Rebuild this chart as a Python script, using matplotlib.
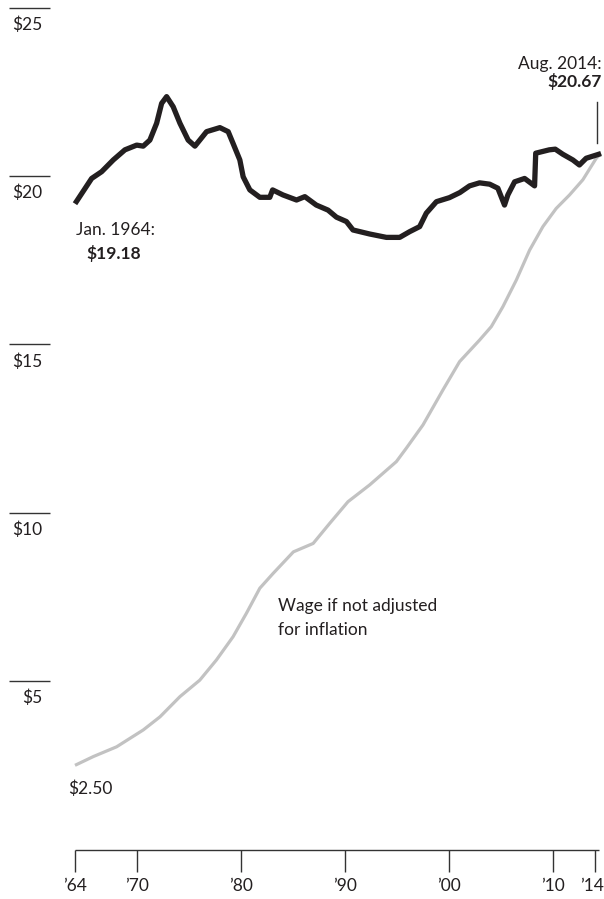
import matplotlib
matplotlib.use("Agg")
import matplotlib.pyplot as plt

plt.rcParams['font.family'] = ['Lato', 'DejaVu Sans']

# ---- data ----
real_years = [1964.0, 1965.6, 1966.56, 1967.68, 1968.8, 1969.93, 1970.56, 1971.2, 1971.85,
              1972.33, 1972.81, 1973.44, 1974.09, 1974.88, 1975.53, 1976.0, 1976.65, 1977.93,
              1978.73, 1979.2, 1979.85, 1980.17, 1980.81, 1981.77, 1982.73, 1983.0, 1984.0,
              1985.3, 1986.1, 1987.2, 1988.33, 1989.14, 1990.1, 1990.73, 1992.34, 1993.94,
              1995.22, 1996.18, 1997.14, 1997.78, 1998.75, 2000.0, 2001.0, 2001.94, 2002.9,
              2003.87, 2004.66, 2005.3, 2005.62, 2006.27, 2007.23, 2008.19, 2008.3, 2009.6,
              2010.18, 2010.9, 2011.87, 2012.5, 2013.15, 2014.58]
real_wage = [19.18, 19.93, 20.13, 20.48, 20.78, 20.92, 20.89, 21.07, 21.57,
             22.16, 22.36, 22.06, 21.57, 21.07, 20.89, 21.07, 21.32, 21.44,
             21.32, 20.97, 20.48, 19.98, 19.59, 19.37, 19.37, 19.59, 19.44,
             19.29, 19.39, 19.14, 18.99, 18.78, 18.65, 18.40, 18.28, 18.18,
             18.18, 18.35, 18.50, 18.90, 19.24, 19.36, 19.51, 19.71, 19.80,
             19.76, 19.64, 19.14, 19.44, 19.83, 19.93, 19.71, 20.68, 20.78,
             20.80, 20.65, 20.48, 20.33, 20.53, 20.67]

nominal_years = [1964.0, 1965.76, 1968.0, 1970.56, 1972.17, 1974.09, 1976.0, 1977.6, 1979.2,
                 1980.49, 1981.77, 1983.05, 1985.0, 1986.9, 1988.5, 1990.25, 1992.34, 1994.9,
                 1995.86, 1997.46, 1999.38, 2000.98, 2002.9, 2004.03, 2005.14, 2006.43,
                 2007.71, 2008.99, 2010.27, 2011.55, 2012.83, 2014.12, 2014.58]
nominal_wage = [2.50, 2.76, 3.05, 3.55, 3.94, 4.54, 5.03, 5.63, 6.32,
                7.02, 7.76, 8.20, 8.84, 9.09, 9.69, 10.33, 10.83, 11.52,
                11.92, 12.61, 13.65, 14.49, 15.13, 15.53, 16.12, 16.91,
                17.80, 18.50, 19.04, 19.44, 19.89, 20.53, 20.67]

x_ticks = [1964, 1970, 1980, 1990, 2000, 2010, 2014]
x_tick_labels = ["\u201964", "\u201970", "\u201980", "\u201990", "\u201900", "\u201910", "\u201914"]
y_grid = [5, 10, 15, 20, 25]
y_grid_labels = ["$5", "$10", "$15", "$20", "$25"]

# ---- layout helpers (pixel geometry of the reference) ----
W, H = 604, 899
YEAR_PER_PX = 50 / 520.0
X0 = 1964 - 75 * YEAR_PER_PX
X1 = 1964 + (W - 75) * YEAR_PER_PX
PX_PER_DOLLAR = 33.67
Y0 = -(H - 849.5) / PX_PER_DOLLAR
Y1 = 849.5 / PX_PER_DOLLAR

def px_x(px):
    return X0 + px * YEAR_PER_PX

def px_y(py):
    return (849.5 - py) / PX_PER_DOLLAR

fig = plt.figure(figsize=(W / 100, H / 100), dpi=100)
ax = fig.add_axes([0, 0, 1, 1])
ax.set_xlim(X0, X1)
ax.set_ylim(Y0, Y1)
for s in ['top', 'right', 'left', 'bottom']:
    ax.spines[s].set_visible(False)

TXT = '#231f20'
FS = 12.5

# x axis line and ticks
ax.plot([1964, px_x(599)], [0, 0], color='#333333', lw=1.0, solid_capstyle='butt')
ax.vlines(x_ticks, px_y(872), 0, color='#333333', lw=1.0)
for t, lab in zip(x_ticks, x_tick_labels):
    xpos = t if t != 2014 else t - 3 * YEAR_PER_PX
    ax.text(xpos, px_y(886), lab, ha='center', va='center', fontsize=FS, color=TXT)

# y gridline stubs and labels
ax.hlines(y_grid, px_x(9), px_x(50), color='#333333', lw=1.0)
for v, lab in zip(y_grid, y_grid_labels):
    ax.text(px_x(42), v - 17 / PX_PER_DOLLAR, lab, ha='right', va='center',
            fontsize=FS, color=TXT)

ax.set_xticks([])
ax.set_yticks([])

# series
ax.plot(nominal_years, nominal_wage, color='#c2c2c2', lw=2.3, solid_capstyle='butt',
        solid_joinstyle='round')
ax.plot(real_years, real_wage, color='#231f20', lw=3.8, solid_capstyle='butt',
        solid_joinstyle='round')

# annotations
ax.text(px_x(115), px_y(230), "Jan. 1964:", ha='center', va='center', fontsize=FS, color=TXT)
ax.text(px_x(114), px_y(254), "$19.18", ha='center', va='center', fontsize=FS,
        fontweight='bold', color=TXT)
ax.text(px_x(602), px_y(64), "Aug. 2014:", ha='right', va='center', fontsize=FS, color=TXT)
ax.text(px_x(602), px_y(81), "$20.67", ha='right', va='center', fontsize=FS,
        fontweight='bold', color=TXT)
ax.plot([px_x(597.3), px_x(597.3)], [px_y(102), px_y(143)], color='#333333', lw=1.0)
ax.text(px_x(68), px_y(789), "$2.50", ha='left', va='center', fontsize=FS, color=TXT)
ax.text(px_x(278), px_y(606), "Wage if not adjusted", ha='left', va='center',
        fontsize=FS, color=TXT)
ax.text(px_x(278), px_y(630), "for inflation", ha='left', va='center',
        fontsize=FS, color=TXT)

fig.savefig("out.png", dpi=100, facecolor='white')
